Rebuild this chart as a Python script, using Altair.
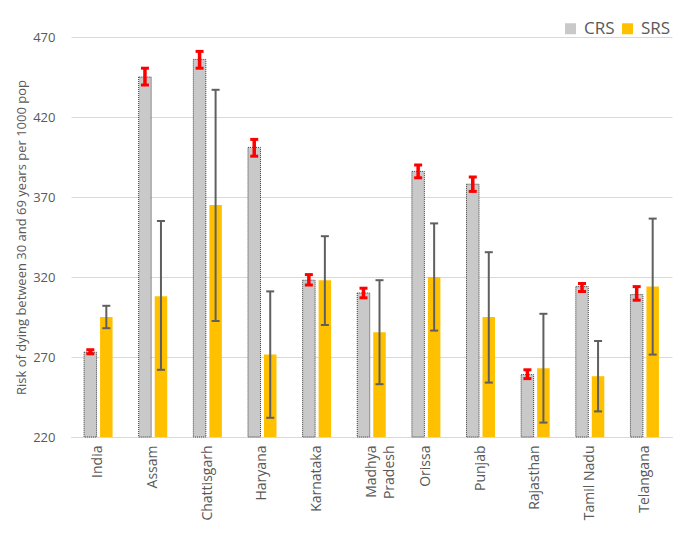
import altair as alt
import pandas as pd

states = ["India", "Assam", "Chattisgarh", "Haryana", "Karnataka", "Madhya Pradesh",
          "Orissa", "Punjab", "Rajasthan", "Tamil Nadu", "Telangana"]
crs = [273, 445, 456, 401, 318, 310, 386, 378, 259, 314, 309]
crs_lo = [272, 440, 450.5, 395.5, 315, 307, 382, 373.5, 256.5, 311, 305.5]
crs_hi = [274.5, 450.5, 461, 406, 321.5, 313, 390, 382.5, 262, 316, 314]
srs = [295, 308, 365, 271.5, 318, 285.5, 320, 295, 263, 258, 314]
srs_lo = [288, 262, 292.5, 232, 290, 253, 286.5, 254, 229, 236, 271.5]
srs_hi = [302, 355, 437, 311, 345.5, 318, 353.5, 335.5, 297, 280, 356.5]
series = ["CRS", "SRS"]
y_ticks = [220, 270, 320, 370, 420, 470]

rows = []
for i, s in enumerate(states):
    rows.append({"state": s, "series": "CRS", "value": crs[i], "lo": crs_lo[i], "hi": crs_hi[i]})
    rows.append({"state": s, "series": "SRS", "value": srs[i], "lo": srs_lo[i], "hi": srs_hi[i]})
df = pd.DataFrame(rows)

FONT = "Open Sans"
GRAY = "#595959"

x_enc = alt.X("state:N", sort=states,
              scale=alt.Scale(paddingInner=0.414, paddingOuter=0.207),
              axis=alt.Axis(title=None, labelAngle=270, labelFontSize=14, labelFont=FONT,
                            labelColor=GRAY, ticks=False, labelPadding=8,
                            domainColor="#d9d9d9", grid=False, labelLineHeight=18,
                            labelExpr="datum.label == 'Madhya Pradesh' ? ['Madhya', 'Pradesh'] : datum.label"))
xo_enc = alt.XOffset("series:N", scale=alt.Scale(domain=series, paddingInner=0, paddingOuter=0))
y_scale = alt.Scale(domain=[220, 470], nice=False, zero=False)

base = alt.Chart(df)

bars = base.mark_bar(width=12.5).encode(
    x=x_enc,
    xOffset=xo_enc,
    y=alt.Y("value:Q", scale=y_scale,
            axis=alt.Axis(title="Risk of dying between 30 and 69 years per 1000 pop",
                          values=y_ticks, ticks=False, domain=False, labelPadding=16,
                          labelFontSize=13, labelFont=FONT, labelColor=GRAY,
                          titleFontSize=13, titleFont=FONT, titleColor=GRAY,
                          titleFontWeight="normal", titlePadding=4,
                          gridColor="#d9d9d9", gridWidth=1)),
    y2=alt.datum(220),
    color=alt.Color("series:N", scale=alt.Scale(domain=series, range=["#c9c9c9", "#FFC000"]),
                    legend=alt.Legend(title=None, orient="none", direction="horizontal",
                                      legendX=491, legendY=-17, padding=0,
                                      labelFontSize=17, labelFont=FONT, labelColor=GRAY,
                                      symbolType="square", symbolSize=121,
                                      symbolStrokeWidth=0, columnPadding=4, labelOffset=5)),
    stroke=alt.condition("datum.series == 'CRS'", alt.value("#3a3a3a"), alt.value("#FFC000")),
    strokeWidth=alt.condition("datum.series == 'CRS'", alt.value(1), alt.value(0)),
    strokeDash=alt.condition("datum.series == 'CRS'", alt.value([1, 1]), alt.value([1, 0])),
)

crs_df = base.transform_filter("datum.series == 'CRS'")
srs_df = base.transform_filter("datum.series == 'SRS'")

def err_layers(src, color, width, cap_w, cap_t):
    rule = src.mark_rule(color=color, strokeWidth=width).encode(
        x=alt.X("state:N", sort=states), xOffset=xo_enc,
        y=alt.Y("lo:Q", scale=y_scale), y2="hi:Q")
    cap_lo = src.mark_tick(color=color, size=cap_w, thickness=cap_t, opacity=1).encode(
        x=alt.X("state:N", sort=states), xOffset=xo_enc,
        y=alt.Y("lo:Q", scale=y_scale))
    cap_hi = src.mark_tick(color=color, size=cap_w, thickness=cap_t, opacity=1).encode(
        x=alt.X("state:N", sort=states), xOffset=xo_enc,
        y=alt.Y("hi:Q", scale=y_scale))
    return [rule, cap_lo, cap_hi]

layers = [bars] + err_layers(srs_df, "#5f5f5f", 2, 8, 2) + err_layers(crs_df, "#ff0000", 3.5, 8, 3)

chart = alt.layer(*layers).properties(
    width=601, height=400,
    autosize=alt.AutoSizeParams(type="none"),
    padding={"left": 63, "top": 29, "right": 9, "bottom": 106},
    background="white",
).configure_view(stroke=None)

chart.save("out.html", embed_options={"renderer": "svg", "actions": False})
